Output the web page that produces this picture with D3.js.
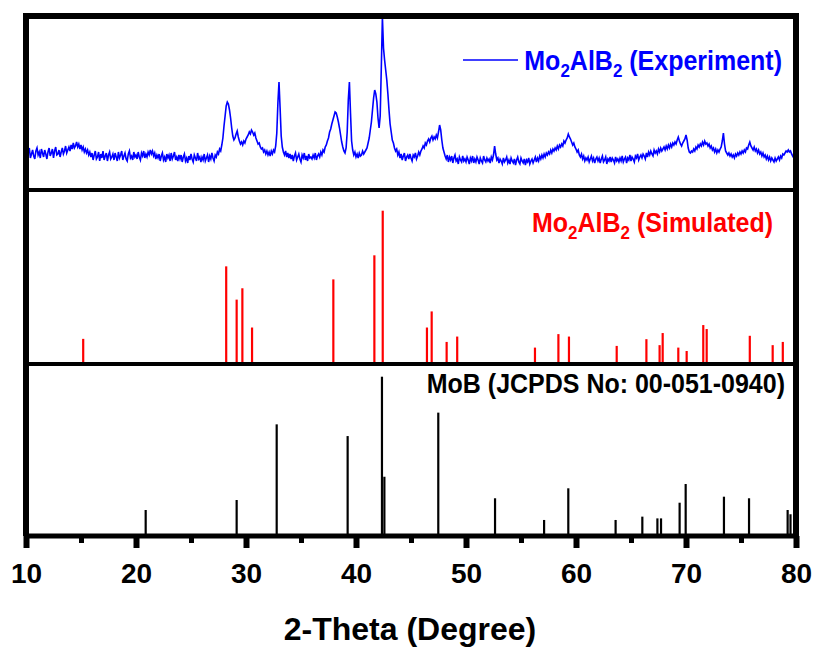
<!DOCTYPE html>
<html>
<head>
<meta charset="utf-8">
<script src="https://cdn.jsdelivr.net/npm/d3@7"></script>
<style>
  html, body { margin: 0; padding: 0; background: #fff; }
  svg { display: block; font-family: "Liberation Sans", Arial, sans-serif; font-weight: bold; }
</style>
</head>
<body>
<svg id="chart" width="815" height="651"></svg>
<script>
// ---------------- DATA ----------------
const xTickValues = [10, 20, 30, 40, 50, 60, 70, 80];
const xMinorValues = [15, 25, 35, 45, 55, 65, 75];
const xTitle = "2-Theta (Degree)";

// Experimental pattern (a.u.), sampled from 10° to 80° every 0.1° (one row = 2°)
const expStart = 10, expStep = 0.1;
const expIntensity = [
  39, 31, 36, 40, 30, 34, 38, 32, 29, 37, 40, 33, 36, 30, 39, 35, 31, 38, 34, 29,
  36, 40, 32, 35, 39, 30, 37, 41, 33, 34, 38, 31, 36, 40, 34, 37, 42, 35, 38, 41,
  37, 43, 39, 45, 40, 42, 46, 41, 44, 39, 43, 38, 41, 36, 39, 35, 38, 33, 36, 31,
  35, 28, 33, 37, 29, 31, 36, 27, 34, 30, 37, 28, 32, 35, 27, 33, 36, 29, 31, 34,
  28, 35, 31, 27, 36, 30, 33, 37, 28, 32, 35, 29, 27, 34, 37, 30, 32, 28, 36, 31,
  33, 29, 36, 31, 28, 35, 32, 37, 30, 34, 31, 36, 33, 38, 34, 37, 32, 35, 29, 33,
  30, 34, 27, 32, 35, 28, 31, 26, 34, 30, 33, 27, 35, 29, 32, 36, 28, 31, 27, 33,
  29, 33, 26, 31, 34, 27, 30, 25, 32, 28, 34, 29, 26, 33, 30, 27, 35, 29, 31, 26,
  31, 28, 34, 27, 30, 33, 26, 32, 29, 35, 30, 27, 33, 31, 36, 34, 39, 37, 43, 50,
  62, 72, 82, 86, 84, 78, 70, 60, 52, 48, 50, 54, 57, 51, 47, 44, 46, 43, 47, 45,
  49, 51, 53, 56, 54, 58, 56, 53, 55, 50, 47, 44, 45, 41, 39, 40, 36, 38, 34, 37,
  33, 36, 32, 37, 34, 38, 36, 42, 55, 85, 106, 80, 52, 41, 36, 33, 37, 31, 35, 30,
  34, 29, 33, 27, 32, 35, 28, 31, 34, 29, 26, 33, 30, 35, 28, 32, 27, 34, 30, 31,
  29, 33, 30, 35, 28, 32, 34, 31, 36, 33, 38, 36, 41, 43, 47, 50, 56, 59, 64, 68,
  72, 76, 75, 71, 66, 60, 53, 46, 41, 37, 35, 40, 56, 88, 106, 75, 47, 38, 33, 36,
  31, 34, 30, 35, 32, 33, 37, 34, 36, 38, 40, 45, 50, 58, 66, 78, 90, 98, 94, 86,
  70, 60, 72, 120, 171, 140, 128, 118, 108, 94, 78, 64, 56, 48, 45, 40, 37, 39, 33, 36,
  30, 34, 28, 32, 35, 27, 31, 33, 29, 34, 30, 27, 33, 31, 35, 29, 32, 36, 33, 37,
  39, 42, 40, 45, 43, 47, 49, 46, 50, 52, 48, 51, 49, 53, 50, 56, 63, 58, 48, 40,
  36, 32, 29, 33, 26, 31, 28, 32, 25, 30, 33, 27, 29, 24, 31, 28, 26, 32, 27, 29,
  26, 31, 28, 24, 30, 27, 32, 25, 29, 26, 31, 28, 24, 30, 27, 25, 32, 28, 26, 30,
  27, 29, 25, 31, 28, 33, 42, 34, 28, 30, 25, 29, 27, 24, 30, 26, 28, 31, 25, 28,
  24, 30, 27, 25, 29, 23, 28, 31, 26, 24, 30, 27, 25, 29, 23, 28, 26, 30, 24, 27,
  29, 25, 28, 31, 26, 30, 27, 32, 29, 33, 30, 34, 31, 35, 33, 36, 34, 38, 35, 39,
  37, 40, 38, 42, 39, 43, 41, 44, 42, 47, 45, 48, 50, 54, 51, 49, 46, 43, 45, 41,
  39, 36, 38, 33, 31, 34, 29, 32, 27, 30, 28, 31, 26, 29, 32, 27, 30, 25, 29, 31,
  27, 30, 25, 29, 32, 26, 28, 31, 24, 29, 27, 31, 26, 30, 28, 25, 31, 27, 29, 26,
  30, 27, 32, 26, 29, 31, 25, 30, 28, 33, 27, 31, 29, 26, 32, 30, 34, 28, 31, 33,
  30, 34, 32, 29, 35, 31, 36, 33, 37, 34, 32, 38, 35, 37, 34, 39, 36, 40, 37, 39,
  41, 38, 42, 39, 43, 40, 44, 41, 45, 43, 46, 44, 48, 51, 47, 44, 42, 45, 47, 49,
  53, 48, 40, 36, 35, 37, 36, 39, 37, 41, 39, 43, 41, 44, 42, 46, 43, 47, 44, 45,
  42, 44, 40, 42, 38, 40, 36, 39, 35, 38, 36, 39, 41, 47, 55, 44, 37, 35, 33, 35,
  32, 34, 31, 33, 30, 34, 32, 35, 33, 36, 34, 37, 35, 38, 36, 40, 39, 43, 46, 42,
  40, 38, 41, 37, 39, 35, 38, 34, 36, 32, 35, 31, 33, 29, 32, 28, 31, 27, 30, 28,
  26, 30, 27, 29, 31, 28, 32, 30, 34, 33, 35, 37, 36, 38, 36, 37, 34, 32, 30, 31,
  29
];

// Simulated Mo2AlB2 stick pattern
const simTheta = [15.2, 28.2, 29.15, 29.67, 30.55, 37.94, 41.67, 42.43, 46.45, 46.88,
                  48.24, 49.2, 56.27, 58.4, 59.36, 63.7, 66.4, 67.6, 67.88, 69.3,
                  70.06, 71.57, 71.88, 75.8, 77.88, 78.8];
const simIntensity = [16.4, 63.7, 42, 49.4, 23.8, 55.2, 70.9, 100, 23.8, 34.3,
                      14.4, 17.9, 10.7, 19.5, 17.9, 11.8, 16.2, 12.3, 20.2, 10.7,
                      8.5, 25.4, 22.8, 18.4, 12.3, 14.4];

// MoB JCPDS 00-051-0940 stick pattern
const mobTheta = [20.88, 29.15, 32.79, 39.24, 42.36, 42.58, 47.48, 52.64, 57.1, 59.3,
                  63.6, 66.03, 67.4, 67.73, 69.42, 69.97, 73.45, 75.73, 79.24, 79.5];
const mobIntensity = [15.8, 22.1, 69.9, 62.5, 100, 36.8, 77.3, 23.2, 9.5, 29.5,
                      9.5, 11.6, 10.5, 10.5, 20.4, 32.2, 24.2, 23.2, 15.8, 13.1];

const labelExp = ["Mo", "2", "AlB", "2", " (Experiment)"];
const labelSim = ["Mo", "2", "AlB", "2", " (Simulated)"];
const labelMoB = "MoB (JCPDS No: 00-051-0940)";

// ---------------- LAYOUT ----------------
const svg = d3.select("#chart");
const X0 = 26, X1 = 796;
const yTopBorder = 16, yDiv1 = 190, yDiv2 = 364, yAxis = 536;

const x = d3.scaleLinear().domain([10, 80]).range([X0, X1]);
const yExp = d3.scaleLinear().domain([0, 171]).range([188, 17]);
const ySim = d3.scaleLinear().domain([0, 100]).range([yDiv2, 210.7]);
const yMoB = d3.scaleLinear().domain([0, 100]).range([yAxis - 1, 376.7]);

const blue = "#0000ff", red = "#ff0000", black = "#000";

// clip for experimental panel
svg.append("defs").append("clipPath").attr("id", "clipTop")
  .append("rect").attr("x", X0).attr("y", 18).attr("width", X1 - X0).attr("height", yDiv1 - 18);

// experimental line
const expData = expIntensity.map((v, i) => [expStart + i * expStep, v]);
svg.append("path")
  .datum(expData)
  .attr("clip-path", "url(#clipTop)")
  .attr("fill", "none")
  .attr("stroke", blue)
  .attr("stroke-width", 1.6)
  .attr("stroke-linejoin", "miter")
  .attr("d", d3.line().x(d => x(d[0])).y(d => yExp(d[1])));

// simulated sticks
svg.append("g").selectAll("line")
  .data(simTheta.map((t, i) => [t, simIntensity[i]]))
  .join("line")
  .attr("x1", d => x(d[0])).attr("x2", d => x(d[0]))
  .attr("y1", ySim(0)).attr("y2", d => ySim(d[1]))
  .attr("stroke", red).attr("stroke-width", 2.2);

// MoB sticks
svg.append("g").selectAll("line")
  .data(mobTheta.map((t, i) => [t, mobIntensity[i]]))
  .join("line")
  .attr("x1", d => x(d[0])).attr("x2", d => x(d[0]))
  .attr("y1", yMoB(0)).attr("y2", d => yMoB(d[1]))
  .attr("stroke", black).attr("stroke-width", 2.2);

// frame
const frame = svg.append("g").attr("stroke", black).attr("fill", "none");
frame.append("line").attr("x1", X0 - 3).attr("x2", X1 + 3).attr("y1", yTopBorder).attr("y2", yTopBorder).attr("stroke-width", 6);
frame.append("line").attr("x1", X0).attr("x2", X1).attr("y1", yDiv1).attr("y2", yDiv1).attr("stroke-width", 4);
frame.append("line").attr("x1", X0).attr("x2", X1).attr("y1", yDiv2).attr("y2", yDiv2).attr("stroke-width", 4);
frame.append("line").attr("x1", X0).attr("x2", X1).attr("y1", yAxis).attr("y2", yAxis).attr("stroke-width", 5);
frame.append("line").attr("x1", X0).attr("x2", X0).attr("y1", yTopBorder - 3).attr("y2", yAxis).attr("stroke-width", 6);
frame.append("line").attr("x1", X1).attr("x2", X1).attr("y1", yTopBorder - 3).attr("y2", yAxis).attr("stroke-width", 6);

// axis ticks
const axMajor = svg.append("g").attr("transform", `translate(0,${yAxis})`)
  .call(d3.axisBottom(x).tickValues(xTickValues).tickSize(12).tickPadding(15).tickFormat(d3.format("d")));
axMajor.select(".domain").remove();
axMajor.selectAll(".tick line").attr("stroke", black).attr("stroke-width", 6);
axMajor.selectAll(".tick text")
  .attr("fill", black)
  .style("font-family", '"Liberation Sans", Arial, sans-serif')
  .style("font-weight", "bold")
  .style("font-size", "28px");

const axMinor = svg.append("g").attr("transform", `translate(0,${yAxis})`)
  .call(d3.axisBottom(x).tickValues(xMinorValues).tickSize(7).tickFormat(""));
axMinor.select(".domain").remove();
axMinor.selectAll(".tick line").attr("stroke", black).attr("stroke-width", 5);

// x title
svg.append("text")
  .attr("x", 410).attr("y", 640)
  .attr("text-anchor", "middle")
  .attr("fill", black)
  .style("font-size", "32px")
  .text(xTitle);

// labels with subscripts (slightly tall glyphs as in the original)
function subLabel(parts, xEnd, yBase, color) {
  const g = svg.append("g").attr("transform", `translate(${xEnd},${yBase}) scale(1,1.1)`);
  const t = g.append("text")
    .attr("x", 0).attr("y", 0)
    .attr("text-anchor", "end")
    .attr("fill", color)
    .style("font-size", "25px");
  parts.forEach((p, i) => {
    const isSub = i % 2 === 1;
    const ts = t.append("tspan").text(p);
    if (isSub) ts.attr("dy", 6).style("font-size", "17px");
    else if (i > 0) ts.attr("dy", -6);
  });
  return g;
}

subLabel(labelExp, 782, 70, blue);
svg.append("line").attr("x1", 463).attr("x2", 518).attr("y1", 60).attr("y2", 60)
  .attr("stroke", blue).attr("stroke-width", 1.5);
subLabel(labelSim, 773, 232, red);

svg.append("g").attr("transform", "translate(785,393) scale(1,1.1)")
  .append("text")
  .attr("text-anchor", "end")
  .attr("fill", black)
  .style("font-size", "25px")
  .text(labelMoB);
</script>
</body>
</html>
